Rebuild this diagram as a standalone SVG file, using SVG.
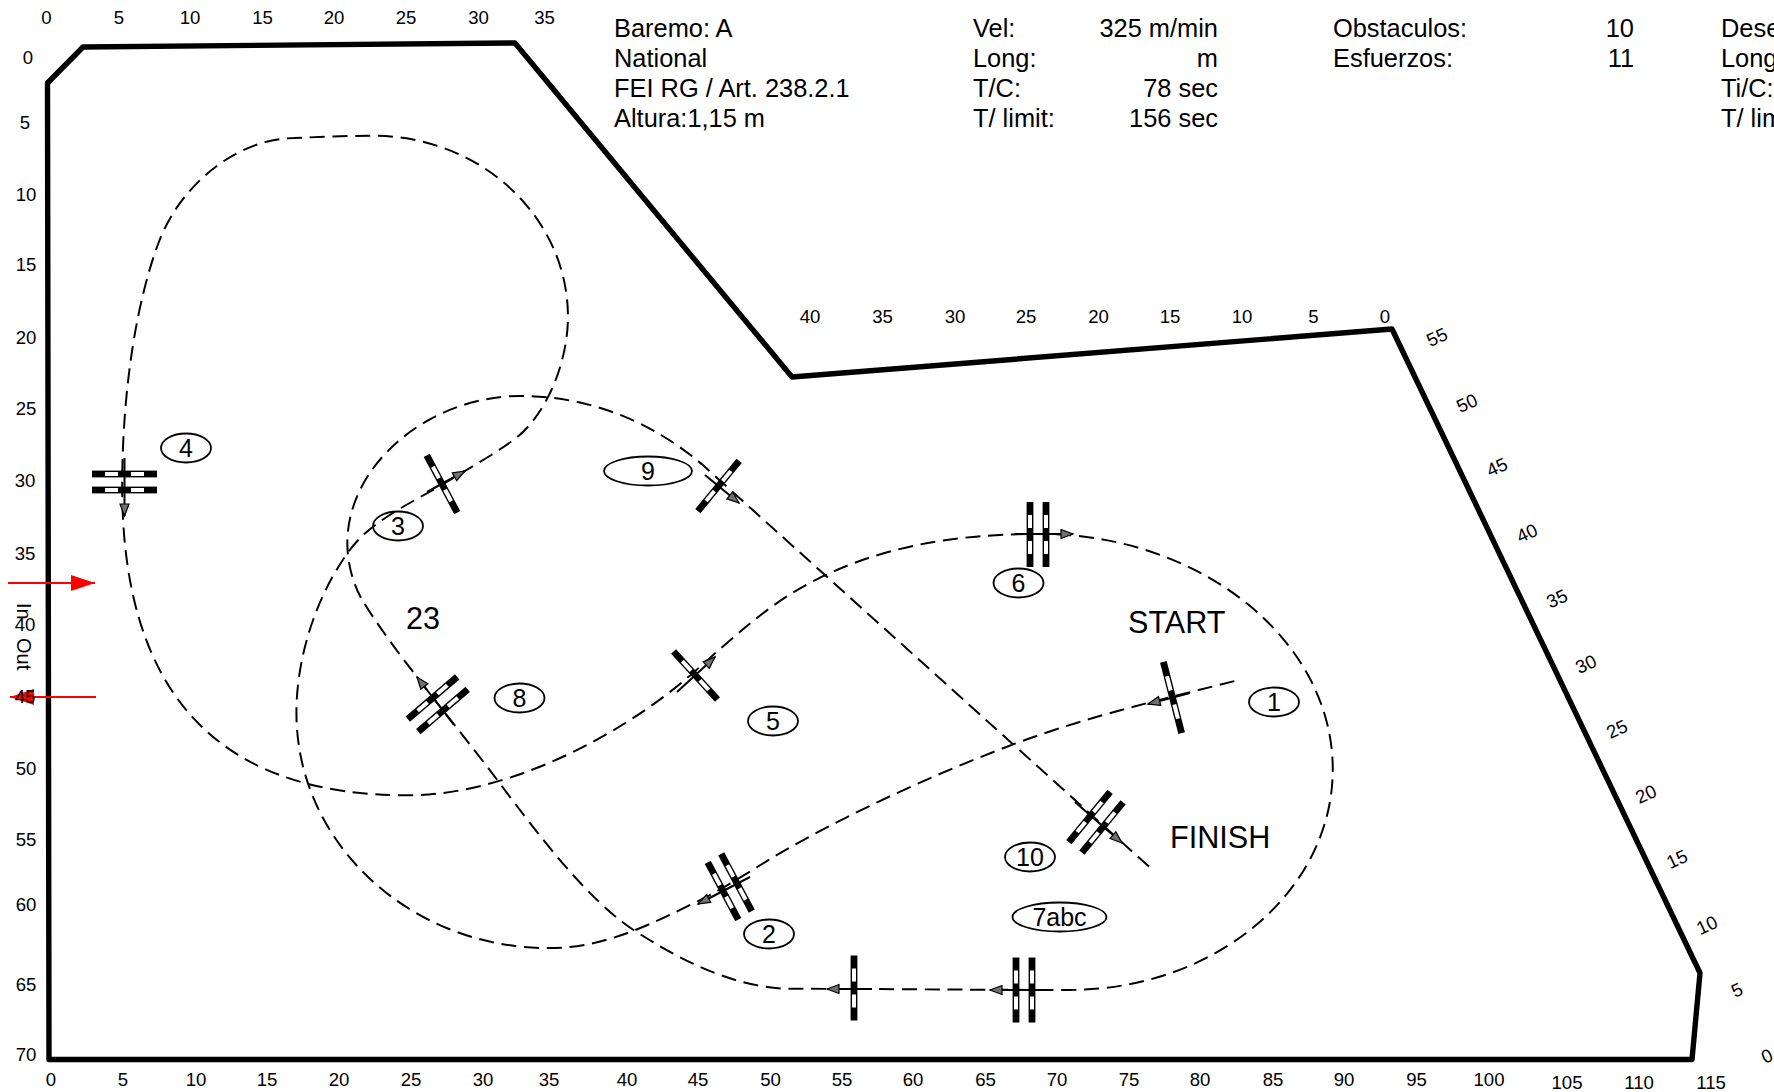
<svg xmlns="http://www.w3.org/2000/svg" xmlns:xlink="http://www.w3.org/1999/xlink" width="1774" height="1092" viewBox="0 0 1774 1092">
<style>
text{font-family:"Liberation Sans",Arial,sans-serif;fill:#000}
.s{font-size:18.6px;text-anchor:middle}
.h{font-size:25.4px}
.r{font-size:25.4px;text-anchor:end}
.l{font-size:25px;text-anchor:middle}
.b{font-size:30.6px}
.e{fill:none;stroke:#000;stroke-width:1.8}
.a{stroke:#000;stroke-width:2;fill:none;marker-end:url(#ah)}
.red{stroke:#f00;stroke-width:1.8;fill:none;marker-end:url(#rh)}
</style>
<defs>
<marker id="ah" markerUnits="userSpaceOnUse" markerWidth="15" markerHeight="12" refX="13" refY="5.5" orient="auto"><path d="M1,1 L13,5.5 L1,10 Z" fill="#707070" stroke="#000" stroke-width="1.2"/></marker>
<marker id="rh" markerUnits="userSpaceOnUse" markerWidth="25" markerHeight="18" refX="24" refY="8.5" orient="auto"><path d="M0,0.5 L24,8.5 L0,16.5 Z" fill="#f00"/></marker>
<g id="bar"><rect x="-32.5" y="-3.4" width="65" height="6.8" fill="#000"/><rect x="-19.5" y="-2" width="13" height="4" fill="#fff"/><rect x="6.5" y="-2" width="13" height="4" fill="#fff"/></g>
</defs>
<rect width="1774" height="1092" fill="#fff"/>
<g id="arena"><path d="M47.5,83 L83,47 L515,43 L792,377 L1392,329 L1700,973 L1692,1059.5 L49,1059.5 Z" fill="none" stroke="#000" stroke-width="5.4" stroke-linejoin="round"/></g>
<g id="scale-top">
<text class="s" x="46.5" y="23.5">0</text><text class="s" x="119" y="23.5">5</text><text class="s" x="190" y="23.5">10</text><text class="s" x="262.5" y="23.5">15</text><text class="s" x="334" y="23.5">20</text><text class="s" x="406" y="23.5">25</text><text class="s" x="478.5" y="23.5">30</text><text class="s" x="544.5" y="23.5">35</text>
</g>
<g id="scale-bottom">
<text class="s" x="51" y="1086">0</text><text class="s" x="123" y="1086">5</text><text class="s" x="196" y="1086">10</text><text class="s" x="267" y="1086">15</text><text class="s" x="339" y="1086">20</text><text class="s" x="411" y="1086">25</text><text class="s" x="483" y="1086">30</text><text class="s" x="549" y="1086">35</text><text class="s" x="627" y="1086">40</text><text class="s" x="698" y="1086">45</text><text class="s" x="770.5" y="1086">50</text><text class="s" x="842" y="1086">55</text><text class="s" x="913" y="1086">60</text><text class="s" x="985.5" y="1086">65</text><text class="s" x="1057" y="1086">70</text><text class="s" x="1129" y="1086">75</text><text class="s" x="1200" y="1086">80</text><text class="s" x="1273" y="1086">85</text><text class="s" x="1344" y="1086">90</text><text class="s" x="1416.5" y="1086">95</text><text class="s" x="1489" y="1086">100</text><text class="s" x="1567" y="1089">105</text><text class="s" x="1639" y="1089">110</text><text class="s" x="1711" y="1089">115</text>
</g>
<g id="scale-mid">
<text class="s" x="810" y="322.5">40</text><text class="s" x="882.5" y="322.5">35</text><text class="s" x="955" y="322.5">30</text><text class="s" x="1026" y="322.5">25</text><text class="s" x="1098.6" y="322.5">20</text><text class="s" x="1170" y="322.5">15</text><text class="s" x="1242" y="322.5">10</text><text class="s" x="1313.5" y="322.5">5</text><text class="s" x="1385" y="322.5">0</text>
</g>
<g id="scale-right">
<text class="s" y="6.5" transform="translate(1437,337) rotate(-25)">55</text><text class="s" y="6.5" transform="translate(1467,403) rotate(-25)">50</text><text class="s" y="6.5" transform="translate(1497,467) rotate(-25)">45</text><text class="s" y="6.5" transform="translate(1527,533) rotate(-25)">40</text><text class="s" y="6.5" transform="translate(1557,598.5) rotate(-25)">35</text><text class="s" y="6.5" transform="translate(1586,664) rotate(-25)">30</text><text class="s" y="6.5" transform="translate(1617,729) rotate(-25)">25</text><text class="s" y="6.5" transform="translate(1646,794) rotate(-25)">20</text><text class="s" y="6.5" transform="translate(1677,859) rotate(-25)">15</text><text class="s" y="6.5" transform="translate(1707,925) rotate(-25)">10</text><text class="s" y="6.5" transform="translate(1737,990) rotate(-25)">5</text><text class="s" y="6.5" transform="translate(1767,1056) rotate(-25)">0</text>
</g>
<g id="header">
<text class="h" x="614" y="37">Baremo: A</text><text class="h" x="614" y="67">National</text><text class="h" x="614" y="97">FEI RG / Art. 238.2.1</text><text class="h" x="614" y="127">Altura:1,15 m</text>
<text class="h" x="973" y="37">Vel:</text><text class="h" x="973" y="67">Long:</text><text class="h" x="973" y="97">T/C:</text><text class="h" x="973" y="127">T/ limit:</text>
<text class="r" x="1218" y="37">325 m/min</text><text class="r" x="1218" y="67">m</text><text class="r" x="1218" y="97">78 sec</text><text class="r" x="1218" y="127">156 sec</text>
<text class="h" x="1333" y="37">Obstaculos:</text><text class="h" x="1333" y="67">Esfuerzos:</text>
<text class="r" x="1634" y="37">10</text><text class="r" x="1634" y="67">11</text>
<text class="h" x="1721" y="37">Dese</text><text class="h" x="1721" y="67">Long</text><text class="h" x="1721" y="97">Ti/C:</text><text class="h" x="1721" y="127">T/ lim</text>
</g>
<g id="connectors">
<path fill="none" stroke="#000" stroke-width="1.75" stroke-dasharray="13.3 6.8" transform="scale(1.13138)" d="M1091,602 C1023,619 955,635 890,660 C825,685 761,714 700,748 C673,763 648,781 620,795 C575,817 535,838 485,838 C362,838 262,745 262,630 C262,580 280,525 310,485 C330,459 365,444 393,427 C413,415 436,402 455,388 C483,367 502,320 502,280 C502,192 425,120 330,120 C307,120 283,121 260,122 C205,123 157,168 140,215 C122,263 108,340 108,430 C108,610 190,703 360,703 C450,703 550,649 610,597 C650,562 680,533 722,512 C790,478 860,472 920,472 C1060,472 1178,565 1178,680 C1178,787 1075,875 945,875 C860,875 780,874 700,874 C650,874 600,848 560,822 C520,796 475,737 440,690 C400,637 345,572 320,530 C312,516 307,498 307,480 C307,410 380,350 460,350 C520,350 575,372 620,410 L1020,770"/>
<path class="red" d="M8,583 H95"/>
<path class="red" d="M96,697 H10"/>
</g>
<g id="scale-left">
<text class="s" x="28" y="64">0</text><text class="s" x="25" y="128.5">5</text><text class="s" x="26" y="201">10</text><text class="s" x="26" y="271">15</text><text class="s" x="26" y="343.6">20</text><text class="s" x="26" y="415">25</text><text class="s" x="25" y="487">30</text><text class="s" x="25" y="560">35</text><text class="s" x="25" y="631">40</text><text class="s" x="25" y="703">45</text><text class="s" x="26" y="775">50</text><text class="s" x="26" y="846">55</text><text class="s" x="26" y="910.5">60</text><text class="s" x="26" y="990.5">65</text><text class="s" x="26" y="1061">70</text>
</g>
<g id="jump-1"><use xlink:href="#bar" href="#bar" transform="translate(1172.5,697.5) rotate(75.6) scale(1.13,1)"/><path class="a" d="M1190,693 L1148,704"/></g>
<g id="jump-2"><use xlink:href="#bar" href="#bar" transform="translate(723,891) rotate(62)"/><use xlink:href="#bar" href="#bar" transform="translate(736.5,882.5) rotate(62)"/><path class="a" d="M750,877 L698,904"/></g>
<g id="jump-3"><use xlink:href="#bar" href="#bar" transform="translate(442,484) rotate(62)"/><path class="a" d="M427,492 L465,471"/></g>
<g id="jump-4"><use xlink:href="#bar" href="#bar" transform="translate(124.5,474)"/><use xlink:href="#bar" href="#bar" transform="translate(124.5,490)"/><path class="a" d="M124.5,458 V516"/></g>
<g id="jump-5"><use xlink:href="#bar" href="#bar" transform="translate(695.5,675.5) rotate(47.5)"/><path class="a" d="M677,692 L715,657"/></g>
<g id="jump-6"><use xlink:href="#bar" href="#bar" transform="translate(1030,534.5) rotate(90)"/><use xlink:href="#bar" href="#bar" transform="translate(1046,534.5) rotate(90)"/><path class="a" d="M1015,534 H1073"/></g>
<g id="jump-7a"><use xlink:href="#bar" href="#bar" transform="translate(1016,990) rotate(90)"/><use xlink:href="#bar" href="#bar" transform="translate(1032,990) rotate(90)"/><path class="a" d="M1047,990 H990"/></g>
<g id="jump-7b"><use xlink:href="#bar" href="#bar" transform="translate(854,988) rotate(90)"/><path class="a" d="M872,989 H827"/></g>
<g id="jump-8"><use xlink:href="#bar" href="#bar" transform="translate(432.5,698) rotate(-40.6)"/><use xlink:href="#bar" href="#bar" transform="translate(443,710.5) rotate(-40.6)"/><path class="a" d="M454,725 L417,677"/></g>
<g id="jump-9"><use xlink:href="#bar" href="#bar" transform="translate(718.5,486) rotate(-50.6)"/><path class="a" d="M705,475 L739,503"/></g>
<g id="jump-10"><use xlink:href="#bar" href="#bar" transform="translate(1089.5,817) rotate(-50.6)"/><use xlink:href="#bar" href="#bar" transform="translate(1102.5,827.5) rotate(-50.6)"/><path class="a" d="M1075,802 L1122,843"/></g>
<g id="label-1"><ellipse class="e" cx="1274" cy="702" rx="25" ry="14.5"/><text class="l" x="1274" y="710.5">1</text></g>
<g id="label-2"><ellipse class="e" cx="769" cy="934" rx="25" ry="14.5"/><text class="l" x="769" y="942.5">2</text></g>
<g id="label-3"><ellipse class="e" cx="398" cy="526" rx="25" ry="14.5"/><text class="l" x="398" y="534.5">3</text></g>
<g id="label-4"><ellipse class="e" cx="186" cy="448" rx="25" ry="14.5"/><text class="l" x="186" y="456.5">4</text></g>
<g id="label-5"><ellipse class="e" cx="773" cy="721" rx="25" ry="14.5"/><text class="l" x="773" y="729.5">5</text></g>
<g id="label-6"><ellipse class="e" cx="1018.5" cy="583" rx="25" ry="14.5"/><text class="l" x="1018.5" y="591.5">6</text></g>
<g id="label-7abc"><ellipse class="e" cx="1059.5" cy="917" rx="47" ry="14.5"/><text class="l" x="1059.5" y="925.5">7abc</text></g>
<g id="label-8"><ellipse class="e" cx="519.5" cy="698" rx="25" ry="14.5"/><text class="l" x="519.5" y="706.5">8</text></g>
<g id="label-9"><ellipse class="e" cx="648" cy="471" rx="44" ry="14.5"/><text class="l" x="648" y="479.5">9</text></g>
<g id="label-10"><ellipse class="e" cx="1030" cy="857" rx="25" ry="14.5"/><text class="l" x="1030" y="865.5">10</text></g>
<g id="free-text">
<text class="b" x="406" y="629">23</text>
<text class="b" x="1128" y="633">START</text>
<text class="b" x="1170" y="848">FINISH</text>
<text style="font-size:20px" transform="translate(17,603) rotate(90)">In</text>
<text style="font-size:20px" transform="translate(17,638) rotate(90)">Out</text>
</g>
</svg>
